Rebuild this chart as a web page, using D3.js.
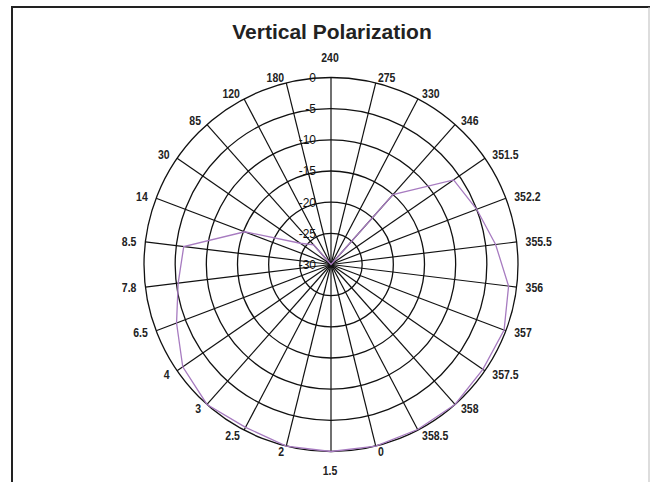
<!DOCTYPE html>
<html>
<head>
<meta charset="utf-8">
<script src="https://cdn.jsdelivr.net/npm/d3@7"></script>
<style>
  body { margin: 0; background: #fff; }
  svg { display: block; }
</style>
</head>
<body>
<div id="chart"></div>
<script>
// spoke labels, clockwise from the top
const angles = ["240", "275", "330", "346", "351.5", "352.2", "355.5", "356", "357", "357.5",
  "358", "358.5", "0", "1.5", "2", "2.5", "3", "4", "6.5", "7.8", "8.5", "14", "30", "85", "120", "180"];
// gain in dB
const gain = [-30, -30, -30, -15, -6.1, -5, -3.4, -1.3, -0.3, -0.4,
  0, -0.1, 0, 0, 0, -0.5, 0, -1.1, -3.5, -5.3, -6.2, -15.2, -24, -25.8, -30, -30];
const ringTicks = [0, -5, -10, -15, -20, -25, -30];

const width = 650, height = 482;
const cx = 331, cy = 264.5, R = 187;

const svg = d3.select("#chart").append("svg")
  .attr("width", width)
  .attr("height", height);

// frame
svg.append("path")
  .attr("d", `M12,${height} L12,7 L650,7`)
  .attr("fill", "none")
  .attr("stroke", "#222")
  .attr("stroke-width", 2);
svg.append("line")
  .attr("x1", 649).attr("x2", 649).attr("y1", 7).attr("y2", height)
  .attr("stroke", "#bbb");

svg.append("text")
  .attr("x", 332)
  .attr("y", 39)
  .attr("text-anchor", "middle")
  .style("font-family", "Liberation Sans, Arial, sans-serif")
  .style("font-weight", "bold")
  .style("font-size", "21px")
  .style("fill", "#222")
  .text("Vertical Polarization");

const r = d3.scaleLinear().domain([-30, 0]).range([0, R]);
const a = d3.scaleLinear().domain([0, angles.length]).range([0, 2 * Math.PI]);

const g = svg.append("g").attr("transform", `translate(${cx},${cy})`);

// rings
g.selectAll("circle.ring")
  .data(ringTicks.filter(d => d > -30))
  .enter()
  .append("circle")
  .attr("class", "ring")
  .attr("r", d => r(d))
  .attr("fill", "none")
  .attr("stroke", "#111")
  .attr("stroke-width", 1.3);

// spokes
g.selectAll("line.spoke")
  .data(angles)
  .enter()
  .append("line")
  .attr("class", "spoke")
  .attr("x1", 0).attr("y1", 0)
  .attr("x2", (d, i) => R * Math.sin(a(i)))
  .attr("y2", (d, i) => -R * Math.cos(a(i)))
  .attr("stroke", "#111")
  .attr("stroke-width", 1.2);

// ring labels along the top spoke
g.selectAll("text.tick")
  .data(ringTicks)
  .enter()
  .append("text")
  .attr("class", "tick")
  .attr("x", -15)
  .attr("y", d => -r(d))
  .attr("dy", "0.36em")
  .attr("text-anchor", "end")
  .style("font-family", "Liberation Sans, Arial, sans-serif")
  .style("font-size", "12px")
  .style("fill", "#111")
  .text(d => d);

// spoke labels (squeezed a little, the original font is narrow)
g.selectAll("text.cat")
  .data(angles)
  .enter()
  .append("text")
  .attr("class", "cat")
  .each(function (d, i) {
    const s = Math.sin(a(i)), c = Math.cos(a(i));
    const ex = R * s, ey = -R * c;
    let x, y, anchor;
    if (Math.abs(s) < 0.01) {
      x = ex - 1;
      y = ey + (c > 0 ? -20 : 19);
      anchor = "middle";
    } else {
      x = ex + s * 9;
      y = ey - c * 6;
      anchor = s > 0 ? "start" : "end";
    }
    d3.select(this)
      .attr("transform", `translate(${x},${y}) scale(0.84,1)`)
      .attr("dy", "0.36em")
      .attr("text-anchor", anchor);
  })
  .style("font-family", "Liberation Sans, Arial, sans-serif")
  .style("font-weight", "bold")
  .style("font-size", "12.5px")
  .style("fill", "#222")
  .text(d => d);

// data line
const line = d3.lineRadial()
  .angle((d, i) => a(i))
  .radius(d => r(d))
  .curve(d3.curveLinearClosed);

g.append("path")
  .datum(gain)
  .attr("d", line)
  .attr("fill", "none")
  .attr("stroke", "#a77bc0")
  .attr("stroke-width", 1.3);
</script>
</body>
</html>
